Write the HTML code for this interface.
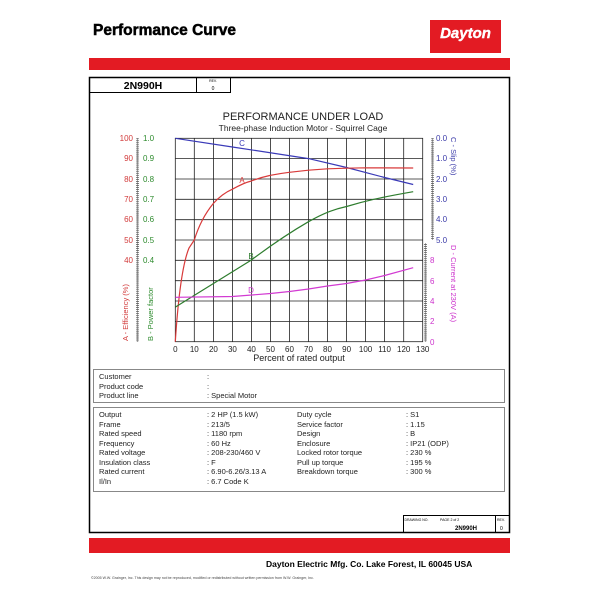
<!DOCTYPE html>
<html><head><meta charset="utf-8"><style>
html,body{margin:0;padding:0;background:#fff;}
svg{display:block;font-family:"Liberation Sans",Arial,sans-serif;}
</style></head><body>
<svg width="600" height="600" viewBox="0 0 600 600" xmlns="http://www.w3.org/2000/svg">
<defs>
<pattern id="tk" width="2" height="2.034" patternUnits="userSpaceOnUse"><rect width="6" height="0.7" fill="#555"/></pattern>
</defs>
<text x="93" y="35" font-size="15.5" font-weight="bold" fill="#000" stroke="#000" stroke-width="0.5">Performance Curve</text>
<rect x="430" y="20" width="71" height="33" fill="#e31b23"/>
<text x="465.5" y="38" font-size="15" font-weight="bold" font-style="italic" fill="#fff" text-anchor="middle" stroke="#fff" stroke-width="0.4">Dayton</text>
<rect x="89" y="58" width="421" height="12" fill="#e31b23"/>
<rect x="89.5" y="77.5" width="420" height="455" fill="none" stroke="#000" stroke-width="1.5"/>
<rect x="89.5" y="77.5" width="107" height="15" fill="none" stroke="#000"/>
<rect x="196.5" y="77.5" width="34" height="15" fill="none" stroke="#000"/>
<text x="143" y="89" font-size="10.5" font-weight="bold" text-anchor="middle">2N990H</text>
<text x="213" y="82" font-size="3.5" text-anchor="middle">REV.</text>
<text x="213" y="90" font-size="5" text-anchor="middle">0</text>
<text x="303" y="120" font-size="11" text-anchor="middle" fill="#222">PERFORMANCE UNDER LOAD</text>
<text x="303" y="131" font-size="8.5" text-anchor="middle" fill="#222">Three-phase Induction Motor - Squirrel Cage</text>
<g stroke="#222" stroke-width="0.8" fill="none">
<rect x="175.3" y="138.3" width="247.4" height="203.4"/>
<path d="M194.3 138.3V341.7M213.4 138.3V341.7M232.4 138.3V341.7M251.4 138.3V341.7M270.5 138.3V341.7M289.5 138.3V341.7M308.5 138.3V341.7M327.5 138.3V341.7M346.6 138.3V341.7M365.6 138.3V341.7M384.6 138.3V341.7M403.7 138.3V341.7"/>
<path d="M175.3 158.6H422.7M175.3 179H422.7M175.3 199.3H422.7M175.3 219.7H422.7M175.3 240H422.7M175.3 260.3H422.7M175.3 280.7H422.7M175.3 301H422.7M175.3 321.4H422.7"/>
</g>
<rect x="136" y="138.3" width="3" height="203.4" fill="url(#tk)"/>
<line x1="137.5" y1="138" x2="137.5" y2="342" stroke="#555" stroke-width="0.5"/>
<rect x="431" y="138.3" width="3" height="101.7" fill="url(#tk)"/>
<line x1="432.5" y1="138" x2="432.5" y2="240" stroke="#555" stroke-width="0.5"/>
<rect x="424" y="243" width="3" height="98.7" fill="url(#tk)"/>
<line x1="425.5" y1="243" x2="425.5" y2="342" stroke="#555" stroke-width="0.5"/>
<g font-size="8" fill="#d23a3a" text-anchor="end">
<text x="133" y="141">100</text><text x="133" y="161">90</text><text x="133" y="182">80</text><text x="133" y="202">70</text><text x="133" y="222">60</text><text x="133" y="243">50</text><text x="133" y="263">40</text>
</g>
<g font-size="8" fill="#2e8b2e">
<text x="143" y="141">1.0</text><text x="143" y="161">0.9</text><text x="143" y="182">0.8</text><text x="143" y="202">0.7</text><text x="143" y="222">0.6</text><text x="143" y="243">0.5</text><text x="143" y="263">0.4</text>
</g>
<g font-size="8" fill="#3a3aa8">
<text x="436" y="141">0.0</text><text x="436" y="161">1.0</text><text x="436" y="182">2.0</text><text x="436" y="202">3.0</text><text x="436" y="222">4.0</text><text x="436" y="243">5.0</text>
</g>
<g font-size="8" fill="#cc33cc">
<text x="430" y="263">8</text><text x="430" y="284">6</text><text x="430" y="304">4</text><text x="430" y="324">2</text><text x="430" y="345">0</text>
</g>
<text transform="translate(128,341) rotate(-90)" font-size="7.5" fill="#d23a3a">A - Efficiency (%)</text>
<text transform="translate(153,341) rotate(-90)" font-size="7.5" fill="#2e8b2e">B - Power factor</text>
<text transform="translate(451,137) rotate(90)" font-size="7.5" fill="#3a3aa8">C - Slip (%)</text>
<text transform="translate(451,245) rotate(90)" font-size="7.5" fill="#cc33cc">D - Current at 230V (A)</text>
<g font-size="8" fill="#222" text-anchor="middle">
<text x="175.3" y="352">0</text><text x="194.3" y="352">10</text><text x="213.4" y="352">20</text><text x="232.4" y="352">30</text><text x="251.4" y="352">40</text><text x="270.5" y="352">50</text><text x="289.5" y="352">60</text><text x="308.5" y="352">70</text><text x="327.5" y="352">80</text><text x="346.6" y="352">90</text><text x="365.6" y="352">100</text><text x="384.6" y="352">110</text><text x="403.7" y="352">120</text><text x="422.7" y="352">130</text>
<text x="299" y="361" font-size="9">Percent of rated output</text>
</g>
<g fill="none" stroke-width="1.2">
<path stroke="#3a3ab8" d="M175.3 138.3 L232.4 147 L308.5 158.6 L346.6 167.5 L384.6 177.5 L413.2 184.5"/>
<path stroke="#d83a3a" d="M175.3 341.7 C178 300 182 265 189 248 L194.3 240 C198 228 203 216 213.4 203.4 C220 196 226 192 232.4 189.2 C240 185 245 182.5 251.4 181 C260 177.5 265 176.5 270.5 175.3 C280 173.5 284 173 289.5 172.3 L308.5 170.2 L327.5 168.8 L346.6 168.2 L365.6 167.8 L413.2 168"/>
<path stroke="#2e7d2e" d="M175.3 307.1 L251.4 260 C270 246 289 233 308.5 221.7 C325 212.5 335 209 346.6 206.5 C365 201 380 197.5 413.2 191.7"/>
<path stroke="#d23ad2" d="M175.3 297.3 L232.4 296.5 L270.5 293.5 L289.5 291.5 L308.5 289 L327.5 286 L346.6 283.5 L365.6 280 L384.6 275.5 L413.2 267.7"/>
</g>
<text x="242" y="146" font-size="8" fill="#3a3ab8" text-anchor="middle">C</text>
<text x="242" y="183" font-size="8" fill="#d83a3a" text-anchor="middle">A</text>
<text x="251" y="259" font-size="8" fill="#2e7d2e" text-anchor="middle">B</text>
<text x="251" y="293" font-size="8" fill="#d23ad2" text-anchor="middle">D</text>
<rect x="93.5" y="369.5" width="411" height="33" fill="none" stroke="#888"/>
<rect x="93.5" y="407.5" width="411" height="84" fill="none" stroke="#888"/>
<g font-size="7.5" fill="#222">
<text x="99" y="379">Customer</text><text x="207" y="379">:</text>
<text x="99" y="389">Product code</text><text x="207" y="389">:</text>
<text x="99" y="398">Product line</text><text x="207" y="398">:  Special Motor</text>
<text x="99" y="417">Output</text><text x="207" y="417">:  2 HP (1.5 kW)</text>
<text x="99" y="427">Frame</text><text x="207" y="427">:  213/5</text>
<text x="99" y="436">Rated speed</text><text x="207" y="436">:  1180 rpm</text>
<text x="99" y="446">Frequency</text><text x="207" y="446">:  60 Hz</text>
<text x="99" y="455">Rated voltage</text><text x="207" y="455">:  208-230/460 V</text>
<text x="99" y="465">Insulation class</text><text x="207" y="465">:  F</text>
<text x="99" y="474">Rated current</text><text x="207" y="474">:  6.90-6.26/3.13 A</text>
<text x="99" y="484">Il/In</text><text x="207" y="484">:  6.7   Code K</text>
<text x="297" y="417">Duty cycle</text><text x="406" y="417">:  S1</text>
<text x="297" y="427">Service factor</text><text x="406" y="427">:  1.15</text>
<text x="297" y="436">Design</text><text x="406" y="436">:  B</text>
<text x="297" y="446">Enclosure</text><text x="406" y="446">:  IP21 (ODP)</text>
<text x="297" y="455">Locked rotor torque</text><text x="406" y="455">:  230 %</text>
<text x="297" y="465">Pull up torque</text><text x="406" y="465">:  195 %</text>
<text x="297" y="474">Breakdown torque</text><text x="406" y="474">:  300 %</text>
</g>
<rect x="403.5" y="515.5" width="92" height="17" fill="none" stroke="#000"/>
<rect x="495.5" y="515.5" width="14" height="17" fill="none" stroke="#000"/>
<text x="404.5" y="521" font-size="3.5">DRAWING NO.</text>
<text x="440" y="521" font-size="3.5">PAGE 2  of  2</text>
<text x="455" y="530" font-size="6" font-weight="bold">2N990H</text>
<text x="497" y="521" font-size="3.5">REV.</text>
<text x="500" y="530" font-size="5">0</text>
<rect x="89" y="538" width="421" height="15" fill="#e31b23"/>
<text x="266" y="567" font-size="8.5" font-weight="bold">Dayton Electric Mfg. Co.  Lake Forest, IL  60045  USA</text>
<text x="91" y="579" font-size="3.6" fill="#444">©2005 W.W. Grainger, Inc.    This design may not be reproduced, modified or redistributed without written permission from W.W. Grainger, Inc.</text>
</svg>
</body></html>
